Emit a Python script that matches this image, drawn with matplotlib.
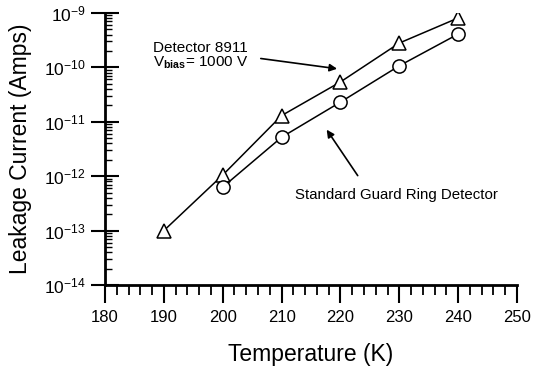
import numpy as np
import matplotlib.pyplot as plt
from matplotlib.ticker import MultipleLocator, LogLocator, NullFormatter

plt.rcParams['font.family'] = ['Liberation Sans', 'DejaVu Sans']
plt.rcParams['mathtext.fontset'] = 'custom'
plt.rcParams['mathtext.rm'] = 'Liberation Sans'
plt.rcParams['mathtext.it'] = 'Liberation Sans'
plt.rcParams['mathtext.bf'] = 'Liberation Sans:bold'

# data
temp_8911 = [190, 200, 210, 220, 230, 240]
current_8911 = [1.0e-13, 1.05e-12, 1.3e-11, 5.4e-11, 2.8e-10, 8.1e-10]

temp_guard = [200, 210, 220, 230, 240]
current_guard = [6.3e-13, 5.2e-12, 2.3e-11, 1.07e-10, 4.1e-10]

fig = plt.figure(figsize=(5.33, 3.67), dpi=100)
ax = fig.add_axes([0.197, 0.2234, 0.773, 0.7412])

ax.plot(temp_8911, current_8911, color='black', lw=1.1, marker='^',
        ms=10, mfc='white', mec='black', mew=1.1)
ax.plot(temp_guard, current_guard, color='black', lw=1.1, marker='o',
        ms=9.5, mfc='white', mec='black', mew=1.1)

ax.set_yscale('log')
ax.set_xlim(180, 250)
ax.set_ylim(1e-14, 1e-9)

ax.xaxis.set_major_locator(MultipleLocator(10))
ax.xaxis.set_minor_locator(MultipleLocator(2))
ax.yaxis.set_major_locator(LogLocator(base=10, numticks=10))
ax.yaxis.set_minor_locator(LogLocator(base=10, subs=np.arange(2, 10), numticks=10))
ax.yaxis.set_minor_formatter(NullFormatter())

for s in ['top', 'right']:
    ax.spines[s].set_visible(False)
for s in ['left', 'bottom']:
    ax.spines[s].set_linewidth(2)

ax.tick_params(axis='x', which='major', direction='out', length=13, width=1.5, labelsize=12, pad=5)
ax.tick_params(axis='x', which='minor', direction='out', length=7, width=1.3)
ax.tick_params(axis='y', which='major', direction='inout', length=20, width=1.5, labelsize=12.5, pad=4)
ax.tick_params(axis='y', which='minor', direction='in', length=5, width=1.0)

ax.set_xlabel('Temperature (K)', fontsize=16.5)
ax.set_ylabel('Leakage Current (Amps)', fontsize=16.5)
ax.xaxis.set_label_coords(0.5, -0.212)
ax.yaxis.set_label_coords(-0.178, 0.5)

ax.text(188.2, 2.3e-10, 'Detector 8911', fontsize=11, va='center', ha='left')
ax.text(188.2, 1.2e-10, r'V$_{\mathbf{bias}}$= 1000 V', fontsize=11, va='center', ha='left')

ax.annotate('', xy=(219.9, 9.3e-11), xytext=(206.0, 1.48e-10),
            arrowprops=dict(arrowstyle='-|>', color='black', lw=1.2, mutation_scale=11))
ax.annotate('', xy=(217.4, 7.9e-12), xytext=(223.2, 9.3e-13),
            arrowprops=dict(arrowstyle='-|>', color='black', lw=1.2, mutation_scale=11))
ax.text(212.3, 4.5e-13, 'Standard Guard Ring Detector', fontsize=10.8, va='center', ha='left')

fig.savefig('out.png', dpi=100)
